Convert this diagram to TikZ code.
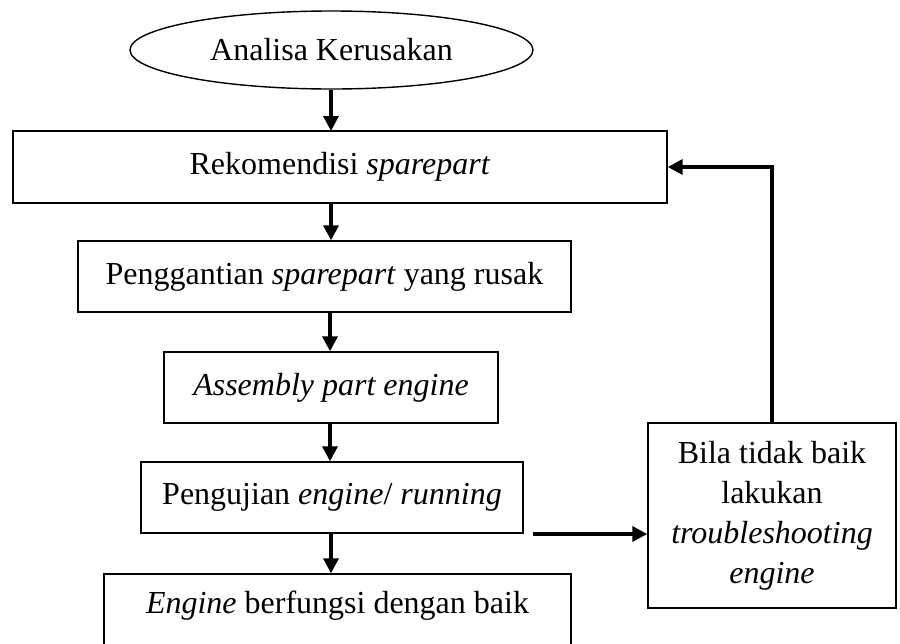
\documentclass[tikz,border=0pt]{standalone}
\usepackage{fontspec}
\setmainfont{Liberation Serif}
\usetikzlibrary{arrows.meta,shapes.geometric}
\tikzset{
  box/.style={draw=black, line width=1.4pt, rectangle, inner sep=0pt, align=center},
  oval/.style={draw=black, line width=1.4pt, ellipse, inner sep=0pt},
  flow/.style={line width=3.5pt, -{Triangle[width=15pt,length=15pt]}},
}
\begin{document}
\begin{tikzpicture}[x=1pt,y=-1pt, font=\fontsize{32}{40}\selectfont]
\useasboundingbox (0,0) rectangle (900,643);
\fill[white] (0,0) rectangle (900,643);
\clip (0,0) rectangle (900,643);
\node[oval, minimum width=403pt, minimum height=78pt] (ana) at (331.5,50) {Analisa Kerusakan};
\node[box, minimum width=654pt, minimum height=72pt] (rek) at (340,167) {Rekomendisi \textit{sparepart}};
\node[box, minimum width=493pt, minimum height=71pt] (ganti) at (324.5,276.5) {Penggantian \textit{sparepart} yang rusak};
\node[box, minimum width=334pt, minimum height=71pt] (asm) at (331,387.5) {\textit{Assembly part engine}};
\node[box, minimum width=382pt, minimum height=71pt] (uji) at (332,497.5) {Pengujian \textit{engine}/ \textit{running}};
\node[box, minimum width=467pt, minimum height=80pt, text height=21pt, text depth=23pt] (baik) at (337.5,614) {\textit{Engine} berfungsi dengan baik};
\node[box, minimum width=248pt, minimum height=185pt] (trb) at (772,515.5) {Bila tidak baik\\lakukan\\\textit{troubleshooting}\\\textit{engine}};
\coordinate (hstart) at (533,534);
\draw[flow] (ana.south -| 331,0) -- (331,131);
\draw[flow] (331,203) -- (ganti.north -| 331,0);
\draw[flow] (ganti.south -| 330,0) -- (asm.north -| 330,0);
\draw[flow] (asm.south -| 330,0) -- (uji.north -| 330,0);
\draw[flow] (uji.south -| 331,0) -- (baik.north -| 331,0);
\draw[flow] (hstart) -- (hstart -| trb.west);
\draw[flow] (trb.north) |- (rek.east);
\end{tikzpicture}
\end{document}
